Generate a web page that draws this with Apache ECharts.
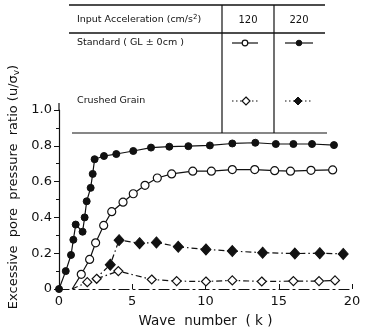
<!DOCTYPE html>
<html><head><meta charset="utf-8">
<script src="https://cdn.jsdelivr.net/npm/echarts@6/dist/echarts.min.js"></script>
<style>html,body{margin:0;padding:0;background:#fff}#c{width:368px;height:333px}</style>
</head><body><div id="c"></div>
<script>
// Standard, 220 cm/s2 (filled circles)
var k220std = [0,0.46,0.82,0.98,1.14,1.61,1.75,1.89,2.16,2.30,2.43,3.07,3.91,5.07,6.28,7.53,8.83,10.3,11.83,13.4,14.8,16.0,17.27,18.77];
var u220std = [0,0.10,0.19,0.275,0.36,0.32,0.40,0.49,0.565,0.643,0.725,0.743,0.754,0.771,0.79,0.795,0.798,0.802,0.813,0.817,0.81,0.81,0.81,0.804];
// Standard, 120 cm/s2 (open circles)
var k120std = [0.9,1.52,2.09,2.5,3.05,3.6,4.37,5.07,5.87,6.71,7.69,9.13,10.4,11.83,13.36,14.72,15.8,17.2,18.68];
var u120std = [0,0.082,0.165,0.258,0.355,0.432,0.485,0.532,0.579,0.62,0.643,0.658,0.658,0.667,0.667,0.661,0.658,0.663,0.665];
// Crushed grain, 220 cm/s2 (filled diamonds)
var k220cr = [2.4,3.5,4.1,5.5,6.65,8.14,10.03,11.83,13.9,16.1,17.8,19.4];
var u220cr = [0.05,0.136,0.273,0.256,0.26,0.236,0.221,0.212,0.203,0.198,0.2,0.196];
// Crushed grain, 120 cm/s2 (open diamonds)
var k120cr = [0.9,1.93,2.57,4.05,6.33,8.03,10.03,11.83,13.84,16.0,17.75,18.84];
var u120cr = [0,0.038,0.057,0.1,0.053,0.044,0.042,0.048,0.042,0.044,0.044,0.048];
// Axis ticks
var xTicks = [0,5,10,15,20];
var yTicks = [0,0.2,0.4,0.6,0.8,1.0];

function pts(ks, us, hideFirst) {
  return ks.map(function (k, i) {
    var d = { value: [k, us[i]] };
    if (hideFirst && i === 0) d.symbol = 'none';
    return d;
  });
}

var FONT = 'DejaVu Sans';
var chart = echarts.init(document.getElementById('c'), null, { renderer: 'canvas' });
var dashDot = [6, 3, 1.5, 3];

var g = [];
function hline(x1, x2, y, w) { g.push({ type: 'line', shape: { x1: x1, y1: y, x2: x2, y2: y }, style: { stroke: '#111', lineWidth: w || 1.2 } }); }
function vline(x, y1, y2, w) { g.push({ type: 'line', shape: { x1: x, y1: y1, x2: x, y2: y2 }, style: { stroke: '#111', lineWidth: w || 1.2 } }); }
function txt(x, y, s, align, size) { g.push({ type: 'text', x: x, y: y, style: { text: s, fill: '#111', font: (size || 9.5) + 'px "' + FONT + '"', align: align || 'left', verticalAlign: 'middle' } }); }

hline(69, 325, 5, 1.4);
hline(69, 325, 33, 1.4);
hline(72, 327, 133, 1.2);
vline(222, 5, 133, 1.2);
vline(274, 5, 133, 1.2);
vline(59, 103, 111, 1.2);
g.push({ type: 'text', x: 77, y: 20, style: { rich: { n: { font: '9.5px "' + FONT + '"', fill: '#111' }, s: { font: '7px "' + FONT + '"', fill: '#111', verticalAlign: 'top', padding: [0, 0, 6, 0] } }, text: '{n|Input Acceleration (cm/s}{s|2}{n|)}', verticalAlign: 'middle' } });
txt(248, 20, '120', 'center', 10);
txt(299, 20, '220', 'center', 10);
txt(77, 43, 'Standard ( GL ± 0cm )');
txt(77, 101, 'Crushed Grain');
// legend samples
g.push({ type: 'line', shape: { x1: 232, y1: 43, x2: 258, y2: 43 }, style: { stroke: '#111', lineWidth: 1.2 } });
g.push({ type: 'circle', shape: { cx: 245, cy: 43, r: 2.8 }, style: { fill: '#fff', stroke: '#111', lineWidth: 1.2 } });
g.push({ type: 'line', shape: { x1: 285, y1: 43, x2: 313, y2: 43 }, style: { stroke: '#111', lineWidth: 1.2 } });
g.push({ type: 'circle', shape: { cx: 299, cy: 43, r: 2.8 }, style: { fill: '#111', stroke: '#111', lineWidth: 1 } });
g.push({ type: 'line', shape: { x1: 232, y1: 101, x2: 260, y2: 101 }, style: { stroke: '#111', lineWidth: 1.1, lineDash: [1.5, 2.5] } });
g.push({ type: 'polygon', shape: { points: [[246, 97], [250, 101], [246, 105], [242, 101]] }, style: { fill: '#fff', stroke: '#111', lineWidth: 1.2 } });
g.push({ type: 'line', shape: { x1: 285, y1: 101, x2: 313, y2: 101 }, style: { stroke: '#111', lineWidth: 1.1, lineDash: [1.5, 2.5] } });
g.push({ type: 'polygon', shape: { points: [[298, 97], [302, 101], [298, 105], [294, 101]] }, style: { fill: '#111', stroke: '#111', lineWidth: 1 } });
// y-axis title
g.push({ type: 'text', x: 14, y: 187, rotation: Math.PI / 2, style: { rich: { n: { font: '13px "' + FONT + '"', fill: '#111' }, s: { font: '9px "' + FONT + '"', fill: '#111', padding: [6, 0, 0, 0] } }, text: '{n|Excessive  pore  pressure  ratio (u/σ}{s|v}{n|)}', align: 'center', verticalAlign: 'middle' } });

var series = [
  { name: '220 standard', type: 'line', data: pts(k220std, u220std, false), symbol: 'circle', symbolSize: 7, itemStyle: { color: '#111', borderColor: '#111' }, lineStyle: { color: '#111', width: 1.2 } },
  { name: '120 standard', type: 'line', data: pts(k120std, u120std, true), symbol: 'circle', symbolSize: 8, itemStyle: { color: '#fff', borderColor: '#111', borderWidth: 1.2 }, lineStyle: { color: '#111', width: 1.2 } },
  { name: '220 crushed', type: 'line', data: pts(k220cr, u220cr, true), symbol: 'diamond', symbolSize: [10, 11], itemStyle: { color: '#111', borderColor: '#111' }, lineStyle: { color: '#111', width: 1.2, type: dashDot } },
  { name: '120 crushed', type: 'line', data: pts(k120cr, u120cr, true), symbol: 'diamond', symbolSize: [9, 9], itemStyle: { color: '#fff', borderColor: '#111', borderWidth: 1.2 }, lineStyle: { color: '#111', width: 1.2, type: dashDot } }
];
series.forEach(function (s) { s.showAllSymbol = true; s.animation = false; s.emphasis = { disabled: true }; s.z = 3; });

chart.setOption({
  animation: false,
  backgroundColor: '#fff',
  grid: { left: 59, right: 16, top: 110, bottom: 41, containLabel: false },
  xAxis: {
    type: 'value', min: xTicks[0], max: xTicks[xTicks.length - 1], interval: 5,
    name: 'Wave  number  ( k )', nameLocation: 'middle', nameGap: 25,
    nameTextStyle: { fontFamily: FONT, fontSize: 13.5, color: '#111' },
    axisLine: { show: true, lineStyle: { color: '#111', width: 1.2, type: [10, 4, 2, 4] } },
    axisTick: { show: true, inside: true, length: 5, lineStyle: { color: '#111' } },
    axisLabel: { fontFamily: FONT, fontSize: 13, color: '#111', margin: 6, formatter: function (v) { return xTicks.indexOf(v) >= 0 ? String(v) : ''; } },
    splitLine: { show: false }
  },
  yAxis: {
    type: 'value', min: yTicks[0], max: yTicks[yTicks.length - 1], interval: 0.2,
    axisLine: { show: true, lineStyle: { color: '#111', width: 1.2 } },
    axisTick: { show: true, length: 5, lineStyle: { color: '#111' } },
    minorTick: { show: true, splitNumber: 2, length: 3, lineStyle: { color: '#111' } },
    axisLabel: { fontFamily: FONT, fontSize: 13, color: '#111', margin: 7, formatter: function (v) { return v === 0 ? '0' : v.toFixed(1); } },
    splitLine: { show: false }
  },
  graphic: g,
  series: series
});
</script>
</body></html>
